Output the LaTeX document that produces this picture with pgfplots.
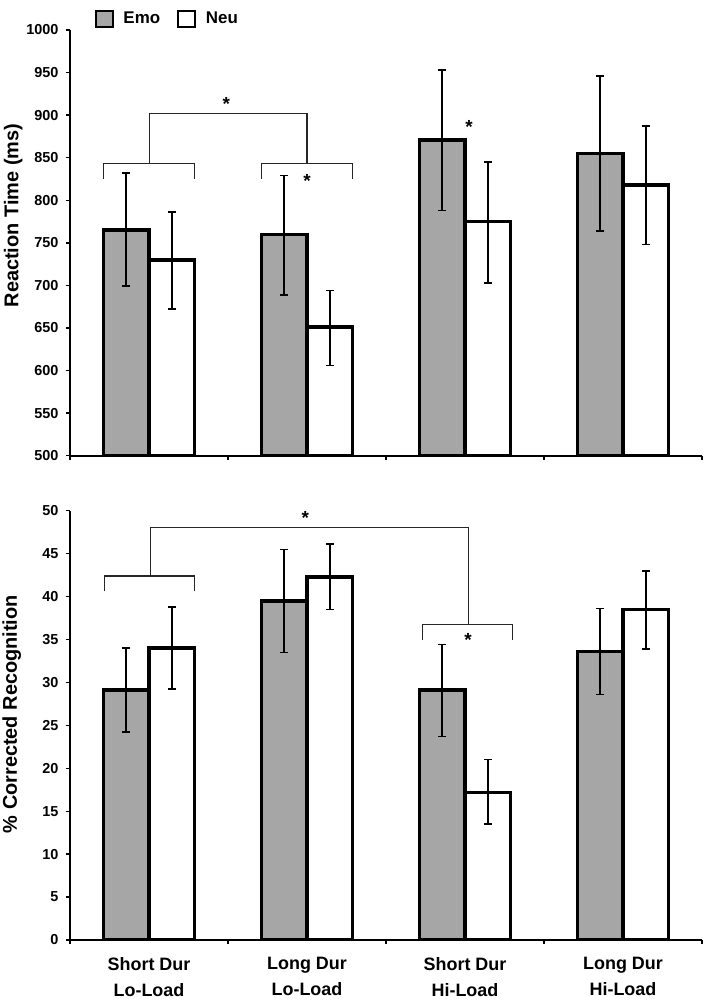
\documentclass[border=0pt]{standalone}
\usepackage{fontspec}
\setmainfont{Liberation Sans}
\usepackage{pgfplots}
\pgfplotsset{compat=1.18}
\usepackage{pgfplotstable}

\definecolor{bargray}{RGB}{166,166,166}

% x positions: category index -0.144 (Emo) / +0.144 (Neu)
\pgfplotstableread{
x y ep em
-0.144 765 67 66
0.856 760 69 71
1.856 871 82 83
2.856 855 91 91
}\rtemo
\pgfplotstableread{
x y ep em
0.144 730 56 58
1.144 651 43 45
2.144 775 70 72
3.144 818 69 70
}\rtneu
\pgfplotstableread{
x y ep em
-0.144 29.1 4.9 4.9
0.856 39.5 6.0 6.0
1.856 29.1 5.3 5.4
2.856 33.6 5.0 5.0
}\cremo
\pgfplotstableread{
x y ep em
0.144 34.0 4.8 4.8
1.144 42.3 3.8 3.8
2.144 17.2 3.8 3.7
3.144 38.5 4.5 4.6
}\crneu

\tikzset{astlabel/.style={font=\bfseries\fontsize{19}{19}\selectfont}}

\pgfplotsset{
  panel/.style={
    scale only axis, width=632bp,
    xmin=-0.5, xmax=3.5,
    axis x line*=bottom, axis y line*=left,
    axis line style={line width=2.2bp},
    every tick/.style={black, line width=1.4bp},
    major tick length=4bp,
    tick align=outside,
    xtick={-0.5,0.5,1.5,2.5,3.5}, xticklabels={},
    /pgf/number format/assume math mode=true,
    /pgf/number format/set thousands separator={},
    yticklabel style={font=\bfseries\fontsize{14.5}{16}\selectfont, xshift=-4bp},
    ylabel style={font=\bfseries\fontsize{20}{22}\selectfont, rotate=0, anchor=center},
  },
  barbase/.style={ybar, bar width=0.288, bar shift=0pt, draw=black, line width=3.4bp,
    error bars/.cd, y dir=both, y explicit,
    error bar style={line width=1.6bp, black},
    error mark options={rotate=90, line width=1.6bp, mark size=4bp, black}},
  emobar/.style={fill=bargray, barbase},
  neubar/.style={fill=white, barbase},
  brk/.style={black!85, line width=1.2bp, forget plot},
}

\begin{document}
\begin{tikzpicture}
\path[use as bounding box] (0,0) rectangle (709bp,1003bp);

% Top panel
\begin{axis}[panel,
  at={(70bp,547.3bp)}, anchor=south west,
  height=425.7bp,
  ymin=500, ymax=1000, ytick={500,550,...,1000},
  ylabel={Reaction Time (ms)},
  ylabel style={at={(axis description cs:-0.09,0.564)}},
  legend columns=2,
  legend style={draw=none, fill=none, at={(axis description cs:0.034,1.0)}, anchor=south west,
    font=\bfseries\fontsize{17}{19}\selectfont,
    /tikz/every even column/.append style={column sep=15bp}},
  legend image code/.code={\draw[#1, line width=2.2bp] (0bp,-8bp) rectangle (17bp,8bp); \path (24bp,0bp);},
]
\addplot[emobar] table[x=x, y=y, y error plus=ep, y error minus=em]{\rtemo};
\addlegendentry{Emo}
\addplot[neubar] table[x=x, y=y, y error plus=ep, y error minus=em]{\rtneu};
\addlegendentry{Neu}
\addplot[brk] coordinates {(-0.29,825) (-0.29,843) (0.29,843) (0.29,825)};
\addplot[brk] coordinates {(0.71,825) (0.71,843) (1.29,843) (1.29,825)};
\addplot[brk] coordinates {(0.005,843) (0.005,902) (1.0,902) (1.0,843)};
\node[astlabel] at (axis cs:0.49,913) {*};
\node[astlabel] at (axis cs:1.0,823) {*};
\node[astlabel] at (axis cs:2.025,886) {*};
\end{axis}

% Bottom panel
\begin{axis}[panel,
  at={(70bp,63bp)}, anchor=south west,
  height=429.3bp,
  ymin=0, ymax=50, ytick={0,5,...,50},
  ylabel={\% Corrected Recognition},
  ylabel style={at={(axis description cs:-0.092,0.526)}},
  extra x ticks={0,1,2,3},
  extra x tick labels={{Short Dur\\Lo-Load},{Long Dur\\Lo-Load},{Short Dur\\Hi-Load},{Long Dur\\Hi-Load}},
  extra x tick style={major tick length=0pt,
    xticklabel style={align=center, font=\bfseries\fontsize{18}{26}\selectfont, yshift=-14bp}},
]
\addplot[emobar] table[x=x, y=y, y error plus=ep, y error minus=em]{\cremo};
\addplot[neubar] table[x=x, y=y, y error plus=ep, y error minus=em]{\crneu};
\addplot[brk] coordinates {(-0.28,40.6) (-0.28,42.4) (0.29,42.4) (0.29,40.6)};
\addplot[brk] coordinates {(1.73,34.9) (1.73,36.7) (2.30,36.7) (2.30,34.9)};
\addplot[brk] coordinates {(0.01,42.4) (0.01,48.07) (2.02,48.07) (2.02,36.7)};
\node[astlabel] at (axis cs:0.99,49.2) {*};
\node[astlabel] at (axis cs:2.02,34.9) {*};
\end{axis}
\end{tikzpicture}
\end{document}
